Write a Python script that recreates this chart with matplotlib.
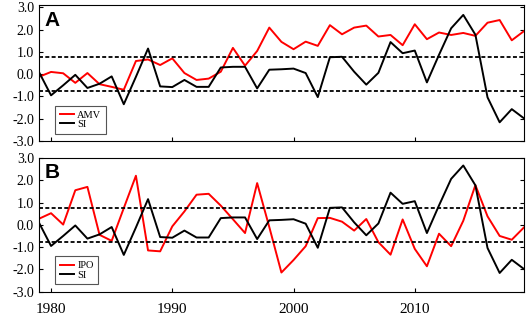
import numpy as np
import matplotlib
matplotlib.use("Agg")
import matplotlib.pyplot as plt
from matplotlib.ticker import FormatStrFormatter

plt.rcParams.update({
    "font.family": "Liberation Serif", "font.size": 9,
    "axes.unicode_minus": False, "axes.linewidth": 0.8,
})

years = np.arange(1979, 2020)

si = [0.1, -0.95, -0.5, -0.03, -0.62, -0.43, -0.1, -1.35, -0.12, 1.15,
      -0.55, -0.58, -0.26, -0.57, -0.57, 0.3, 0.33, 0.33, -0.64, 0.2,
      0.22, 0.25, 0.05, -1.03, 0.76, 0.78, 0.11, -0.47, 0.06, 1.44,
      0.94, 1.06, -0.37, 0.87, 2.06, 2.66, 1.77, -1.04, -2.16, -1.57, -1.98]

amv = [-0.12, 0.1, 0.04, -0.39, 0.05, -0.45, -0.57, -0.7, 0.59, 0.66,
       0.41, 0.71, 0.05, -0.26, -0.2, 0.11, 1.18, 0.38, 1.04, 2.09,
       1.45, 1.12, 1.46, 1.27, 2.2, 1.79, 2.09, 2.18, 1.69, 1.76,
       1.3, 2.24, 1.57, 1.87, 1.76, 1.85, 1.72, 2.31, 2.43, 1.52, 1.93]

ipo = [0.27, 0.52, 0.01, 1.55, 1.7, -0.45, -0.72, 0.75, 2.2, -1.15,
       -1.19, -0.07, 0.6, 1.35, 1.39, 0.86, 0.25, -0.37, 1.87, -0.1,
       -2.14, -1.58, -0.96, 0.3, 0.31, 0.14, -0.26, 0.26, -0.78, -1.34,
       0.24, -1.08, -1.86, -0.4, -0.96, 0.18, 1.78, 0.38, -0.5, -0.67, -0.12]

threshold = 0.75
year_ticks = [1980, 1990, 2000, 2010]

fig = plt.figure(figsize=(5.26, 3.19), dpi=100)
ax_a = fig.add_axes([0.074, 0.558, 0.922, 0.426])
ax_b = fig.add_axes([0.074, 0.0856, 0.922, 0.4194])


def draw_panel(ax, idx, name, letter, ytop):
    ax.plot(years, idx, color="#ff0000", lw=1.4, label=name)
    ax.plot(years, si, color="black", lw=1.4, label="SI")
    for y in (threshold, -threshold):
        ax.axhline(y, color="black", lw=1.3, ls=(0, (2.2, 1.3)))
    ax.set_xlim(1979, 2019); ax.set_ylim(-3, ytop)
    ax.set_yticks(np.arange(-3, 3.1, 1.0))
    ax.yaxis.set_major_formatter(FormatStrFormatter("%.1f"))
    ax.set_xticks(year_ticks)
    ax.tick_params(axis="x", direction="in", length=3, top=False, labelsize=11, pad=8)
    ax.tick_params(axis="y", direction="in", length=3, right=True, labelsize=10)
    ax.text(0.012, 0.96, letter, transform=ax.transAxes, ha="left", va="top",
            fontsize=15, fontweight="bold", family="Liberation Sans")
    leg = ax.legend(loc="lower left", bbox_to_anchor=(0.033, 0.055), borderaxespad=0,
                    fontsize=7.5, handlelength=1.4, handletextpad=0.3, labelspacing=0.0,
                    borderpad=0.45, fancybox=False, framealpha=1)
    leg.get_frame().set_edgecolor("#555555"); leg.get_frame().set_linewidth(0.8)


draw_panel(ax_a, amv, "AMV", "A", 3.1)
draw_panel(ax_b, ipo, "IPO", "B", 3.0)
ax_a.tick_params(labelbottom=False)

fig.savefig("out.png", dpi=100)
